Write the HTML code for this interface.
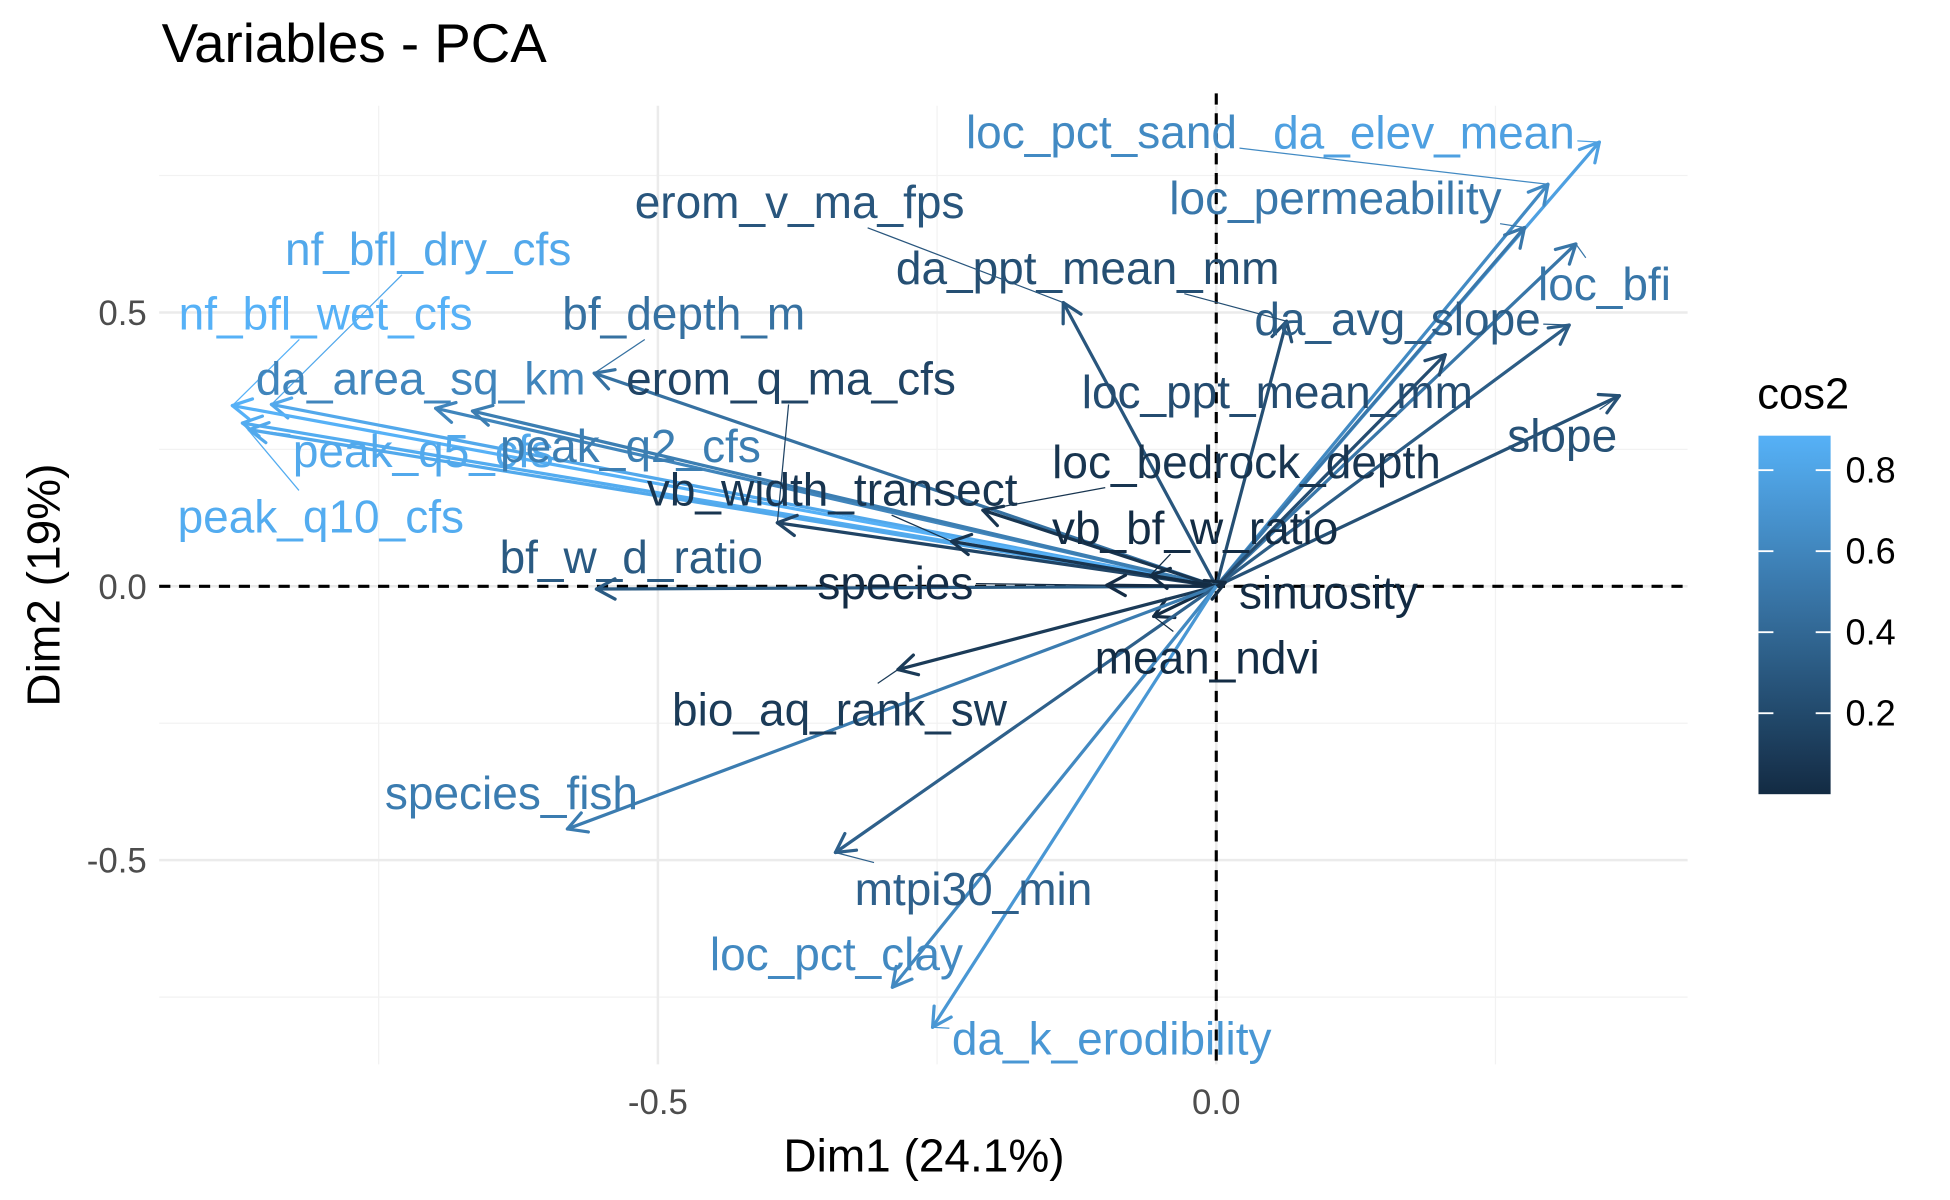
<!DOCTYPE html>
<html><head><meta charset="utf-8"><style>
html,body{margin:0;padding:0;background:#fff;}
svg{display:block;font-family:"Liberation Sans",Arial,sans-serif;}
</style></head><body>
<svg id="chart" width="1950" height="1200" viewBox="0 0 1568 964" preserveAspectRatio="none" xmlns="http://www.w3.org/2000/svg">
<rect width="1568" height="964" fill="#fff"/>
<g id="grid"></g>
<g id="axes"></g>
<g id="arrows"></g>
<g id="labels"></g>
<g id="legend"></g>
</svg>
<script>
const varNames=["da_elev_mean","loc_pct_sand","loc_permeability","loc_bfi","da_avg_slope","loc_ppt_mean_mm","slope","da_ppt_mean_mm","erom_v_ma_fps","nf_bfl_dry_cfs","nf_bfl_wet_cfs","da_area_sq_km","peak_q10_cfs","peak_q5_cfs","peak_q2_cfs","erom_q_ma_cfs","bf_depth_m","vb_width_transect","loc_bedrock_depth","bf_w_d_ratio","species","vb_bf_w_ratio","sinuosity","mean_ndvi","bio_aq_rank_sw","species_fish","mtpi30_min","loc_pct_clay","da_k_erodibility"];
const dim1=[0.343,0.297,0.276,0.322,0.316,0.205,0.361,0.063,-0.137,-0.846,-0.881,-0.699,-0.872,-0.866,-0.666,-0.393,-0.557,-0.237,-0.209,-0.555,-0.098,-0.059,0.008,-0.056,-0.285,-0.581,-0.341,-0.290,-0.254];
const dim2=[0.811,0.734,0.655,0.625,0.477,0.423,0.348,0.484,0.518,0.332,0.330,0.325,0.298,0.286,0.320,0.116,0.389,0.082,0.139,-0.005,0.002,0.020,0.007,-0.055,-0.152,-0.443,-0.486,-0.732,-0.805];
const labelDx=[-141,-359,-152,23,-138,-135,-46,-160,-212,126,75,-12,63,140,127,11,72,-96,212,28,-170,36,83,43,-47,-45,111,-45,144];
const labelDy=[-8,-42,-24,32,-5,30,32,-43,-81,-125,-74,-24,75,17,28,-116,-48,-42,-39,-26,-2,-38,8,33,32,-29,29,-27,9];
const xTicks=[-0.5,0.0];
const xTickLabels=["-0.5","0.0"];
const yTicks=[-0.5,0.0,0.5];
const yTickLabels=["-0.5","0.0","0.5"];
const xMinor=[-0.75,-0.25,0.25];
const yMinor=[-0.75,-0.25,0.25,0.75];
const legendTicks=[0.2,0.4,0.6,0.8];

const NS="http://www.w3.org/2000/svg";
const PL=128,PR=1357,PT=85,PB=855;
const X=v=>978+v*898;
const Y=v=>471-v*440;
function mk(tag,attrs,parent){const e=document.createElementNS(NS,tag);for(const k in attrs)e.setAttribute(k,attrs[k]);parent.appendChild(e);return e;}
const grid=document.getElementById('grid'),axes=document.getElementById('axes'),arrowsG=document.getElementById('arrows'),labelsG=document.getElementById('labels'),legendG=document.getElementById('legend'),svg=document.getElementById('chart');

xMinor.forEach(v=>{const l=mk('line',{x1:X(v),x2:X(v),y1:PT,y2:PB,stroke:'#f2f2f2','stroke-width':1},grid);

});
yMinor.forEach(v=>{const l=mk('line',{x1:PL,x2:PR,y1:Y(v),y2:Y(v),stroke:'#f2f2f2','stroke-width':1},grid);

});
xTicks.forEach((v,i)=>{const l=mk('line',{x1:X(v),x2:X(v),y1:PT,y2:PB,stroke:'#ebebeb','stroke-width':2},grid);


const t=mk('text',{x:X(v),y:PB+40,'text-anchor':'middle','font-size':28,fill:'#4d4d4d'},axes);t.textContent=xTickLabels[i];

});
yTicks.forEach((v,i)=>{const l=mk('line',{x1:PL,x2:PR,y1:Y(v),y2:Y(v),stroke:'#ebebeb','stroke-width':2},grid);


const t=mk('text',{x:PL-10,y:Y(v)+10,'text-anchor':'end','font-size':28,fill:'#4d4d4d'},axes);t.textContent=yTickLabels[i];

});
let e=mk('line',{x1:X(0),x2:X(0),y1:PT-10,y2:PB,stroke:'#000','stroke-width':2.5,'stroke-dasharray':'9,7'},axes);


e=mk('line',{x1:PL,x2:PR,y1:Y(0),y2:Y(0),stroke:'#000','stroke-width':2.5,'stroke-dasharray':'9,7'},axes);


e=mk('text',{x:130,y:50,'font-size':44,fill:'#000'},axes);e.textContent='Variables - PCA';


e=mk('text',{x:743,y:941,'text-anchor':'middle','font-size':37,fill:'#000'},axes);e.textContent='Dim1 (24.1%)';


e=mk('text',{x:0,y:0,'text-anchor':'middle','font-size':37,fill:'#000',transform:'translate(48,470) rotate(-90)'},axes);e.textContent='Dim2 (19%)';



const cos2=dim1.map((v,i)=>v*v+dim2[i]*dim2[i]);
const cmin=Math.min(...cos2),cmax=Math.max(...cos2);
const lo=[19,43,67],hi=[86,177,247];
function col(c){const t=Math.max(0,Math.min(1,(c-cmin)/(cmax-cmin)));return 'rgb('+lo.map((a,k)=>Math.round(a+(hi[k]-a)*t)).join(',')+')';}

const ox=X(0),oy=Y(0);
varNames.forEach((n,i)=>{
  const tx=X(dim1[i]),ty=Y(dim2[i]),c=col(cos2[i]);
  const g=mk('g',{},arrowsG);
  
  
  mk('line',{x1:ox,y1:oy,x2:tx,y2:ty,stroke:c,'stroke-width':2.6},g);
  const ang=Math.atan2(ty-oy,tx-ox),L=17;
  [0.5,-0.5].forEach(d=>{mk('line',{x1:tx,y1:ty,x2:tx-L*Math.cos(ang+d),y2:ty-L*Math.sin(ang+d),stroke:c,'stroke-width':2.6,'stroke-linecap':'round'},g);});
});
varNames.forEach((n,i)=>{
  const tx=X(dim1[i]),ty=Y(dim2[i]),c=col(cos2[i]);
  const lx=tx+labelDx[i],ly=ty+labelDy[i];
  const t=mk('text',{x:lx,y:ly+13,'text-anchor':'middle','font-size':37,fill:c},labelsG);
  t.textContent=n;
  
  
  const b=t.getBBox();
  const dx=tx-lx,dy=ty-ly;
  const hw=b.width/2+2,hh=b.height/2;
  if(Math.abs(dx)>hw+10||Math.abs(dy)>hh+10){
    const s=Math.min(Math.abs(dx)>0?hw/Math.abs(dx):1e9,Math.abs(dy)>0?hh/Math.abs(dy):1e9);
    const sx=lx+dx*s,sy=ly+dy*s;
    const seg=mk('line',{x1:sx,y1:sy,x2:tx,y2:ty,stroke:c,'stroke-width':1},labelsG);
    
    
  }
});

// legend
e=mk('text',{x:1413,y:328,'font-size':35,fill:'#000'},legendG);e.textContent='cos2';


const defs=mk('defs',{},svg);
const lg=mk('linearGradient',{id:'cg',x1:0,y1:1,x2:0,y2:0},defs);
for(let k=0;k<=10;k++){mk('stop',{offset:k/10,'stop-color':col(cmin+(cmax-cmin)*k/10)},lg);}
const BT=350,BB=638;
e=mk('rect',{x:1414,y:BT,width:58,height:BB-BT,fill:'url(#cg)'},legendG);


const LY=v=>BB-(v-cmin)/(cmax-cmin)*(BB-BT);
legendTicks.forEach(v=>{const y=LY(v);
  mk('line',{x1:1414,x2:1426,y1:y,y2:y,stroke:'#fff','stroke-width':1.5},legendG);
  mk('line',{x1:1460,x2:1472,y1:y,y2:y,stroke:'#fff','stroke-width':1.5},legendG);
  const t=mk('text',{x:1484,y:y+10,'font-size':29,fill:'#000'},legendG);t.textContent=v.toFixed(1);
  
  });
</script>
</body></html>
